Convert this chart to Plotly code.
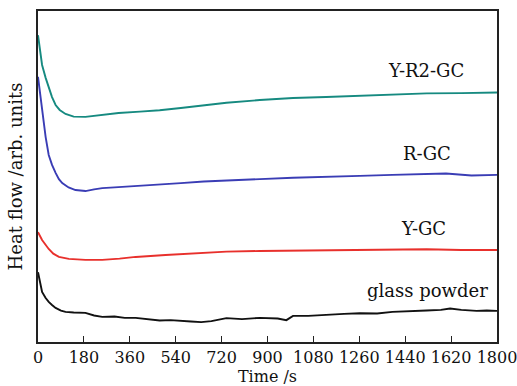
import plotly.graph_objects as go

# Time (s) and heat-flow readings (arb. units)
t_yr2 = [0, 16, 30, 42, 55, 69, 85, 108, 140, 186, 250, 316, 400, 477, 560, 650, 739, 870, 1000, 1130, 1262, 1390, 1524, 1660, 1800]
v_yr2 = [92.7, 83.7, 79.8, 76.7, 74.0, 71.6, 70.1, 68.9, 68.1, 68.0, 68.6, 69.2, 69.6, 70.0, 70.7, 71.6, 72.3, 73.1, 73.7, 74.0, 74.4, 74.8, 75.1, 75.2, 75.4]

t_r = [0, 16, 30, 42, 55, 69, 82, 95, 120, 147, 186, 220, 252, 300, 383, 477, 560, 650, 739, 870, 1000, 1130, 1262, 1390, 1524, 1600, 1700, 1800]
v_r = [80.1, 69.5, 61.9, 56.5, 53.5, 51.1, 49.2, 48.0, 46.7, 45.9, 45.6, 46.1, 46.5, 46.7, 47.1, 47.4, 48.0, 48.5, 48.7, 49.2, 49.6, 49.8, 50.2, 50.5, 50.7, 50.9, 50.3, 50.5]

t_y = [0, 16, 42, 60, 82, 121, 186, 252, 320, 383, 500, 620, 739, 870, 1000, 1130, 1262, 1390, 1524, 1660, 1800]
v_y = [33.2, 30.8, 28.1, 26.7, 25.7, 25.1, 24.8, 24.8, 25.2, 25.7, 26.3, 26.7, 27.3, 27.5, 27.6, 27.8, 28.0, 28.1, 28.0, 27.8, 27.8]

t_g = [0, 8, 16, 30, 42, 55, 69, 90, 108, 140, 186, 220, 252, 300, 340, 383, 430, 477, 520, 560, 600, 640, 680, 739, 800, 870, 940, 974, 1000, 1060, 1130, 1200, 1262, 1330, 1390, 1460, 1524, 1580, 1616, 1660, 1720, 1760, 1800]
v_g = [21.1, 18.1, 15.1, 13.3, 12.1, 11.2, 10.3, 9.5, 9.1, 8.9, 8.8, 8.0, 7.6, 7.7, 7.3, 7.3, 6.9, 6.5, 6.6, 6.3, 6.2, 6.0, 6.3, 7.2, 6.9, 7.3, 7.1, 6.6, 7.9, 7.9, 8.3, 8.5, 8.7, 8.6, 9.1, 9.2, 9.5, 9.7, 10.1, 9.7, 9.4, 9.5, 9.4]

labels = ["Y-R2-GC", "R-GC", "Y-GC", "glass powder"]
label_t = [1521, 1524, 1510, 1529]
label_v = [81.9, 57.1, 34.4, 15.7]
x_ticks = [0, 180, 360, 540, 720, 900, 1080, 1260, 1440, 1620, 1800]

FONT = "DejaVu Serif"
series = [
    (t_yr2, v_yr2, "#168a80", labels[0]),
    (t_r, v_r, "#3a3db5", labels[1]),
    (t_y, v_y, "#e8302c", labels[2]),
    (t_g, v_g, "#111111", labels[3]),
]

fig = go.Figure()
for tx, vy, col, name in series:
    fig.add_trace(go.Scatter(x=tx, y=vy, mode="lines", name=name,
                             line=dict(color=col, width=1.9), showlegend=False))

for lab, lt, lv in zip(labels, label_t, label_v):
    fig.add_annotation(x=lt, y=lv, text=lab, showarrow=False,
                       font=dict(family=FONT, size=18, color="#111"),
                       xanchor="center", yanchor="middle")

fig.update_layout(
    width=517, height=386,
    margin=dict(l=38, r=20, t=11, b=44, autoexpand=False),
    paper_bgcolor="white", plot_bgcolor="white",
    font=dict(family=FONT, size=16, color="#111"),
)
fig.update_xaxes(range=[0, 1800], tickvals=x_ticks, ticktext=[str(v) for v in x_ticks],
                 ticks="inside", ticklen=6, tickwidth=1.2, tickcolor="#222",
                 ticklabeloverflow="allow", automargin=False, ticklabelstandoff=0,
                 tickfont=dict(family=FONT, size=16, color="#111"),
                 showline=True, linecolor="#222", linewidth=1.5, mirror=True,
                 showgrid=False, zeroline=False,
                 title=dict(text="Time /s", standoff=4, font=dict(family=FONT, size=16)))
fig.update_yaxes(range=[0, 100], showticklabels=False, ticks="", automargin=False,
                 showline=True, linecolor="#222", linewidth=1.5, mirror=True,
                 showgrid=False, zeroline=False,
                 title=dict(text="Heat flow /arb. units", standoff=9, font=dict(family=FONT, size=18)))

fig.write_html("out.html")
